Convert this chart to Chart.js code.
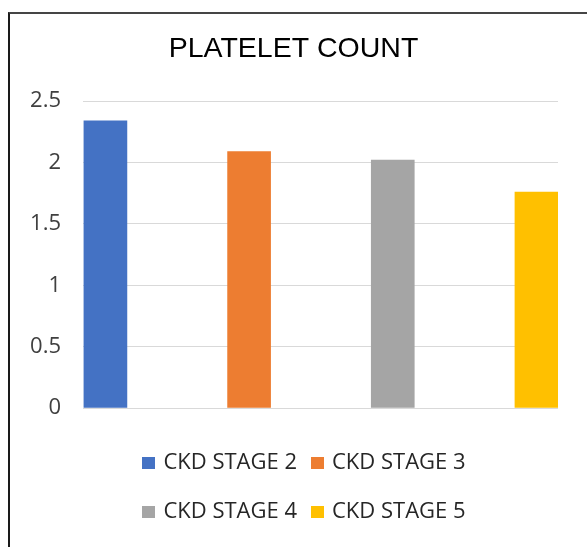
<!DOCTYPE html>
<html lang="en">
<head>
    <meta charset="UTF-8">
    <title>PLATELET COUNT</title>
    <script src="https://cdn.jsdelivr.net/npm/chart.js"></script>
    <style>
        body {
            margin: 0;
            background-color: #fff;
            overflow: hidden;
        }
        .frame {
            position: absolute;
            left: 8px;
            top: 12px;
            width: 700px;
            height: 700px;
            border-left: 2px solid #1a1a1a;
            border-top: 2px solid #454545;
        }
        .chart-container {
            position: absolute;
            left: 0;
            top: 0;
            width: 587px;
            height: 547px;
        }
    </style>
</head>
<body>
    <div class="frame"></div>
    <div class="chart-container">
        <canvas id="plateletChart"></canvas>
    </div>

    <script>
    // --- data ---
    const stages = ['CKD STAGE 2', 'CKD STAGE 3', 'CKD STAGE 4', 'CKD STAGE 5'];
    const plateletValues = [2.34, 2.09, 2.02, 1.76];
    const barColors = ['#4472C4', '#ED7D31', '#A5A5A5', '#FFC000'];
    const yTicks = [0, 0.5, 1, 1.5, 2, 2.5];

    // Excel style legend: two rows of two items under the plot
    const excelLegend = {
        id: 'excelLegend',
        afterDraw(chart) {
            const ctx = chart.ctx;
            const sets = chart.data.datasets;
            const rows = [[0, 1], [2, 3]];
            ctx.save();
            ctx.font = '22px "Open Sans"';
            ctx.textBaseline = 'middle';
            rows.forEach((row, r) => {
                const y = chart.chartArea.bottom + 55 + r * 49;
                const widths = row.map(i => 13 + 8 + ctx.measureText(sets[i].label).width);
                let x = 304 - (widths[0] + 14 + widths[1]) / 2;
                row.forEach((i, k) => {
                    ctx.fillStyle = sets[i].backgroundColor;
                    ctx.fillRect(Math.round(x), Math.round(y - 6), 13, 12);
                    ctx.fillStyle = '#262626';
                    ctx.fillText(sets[i].label, x + 21, y);
                    x += widths[k] + 14;
                });
            });
            ctx.restore();
        }
    };

    const ctx = document.getElementById('plateletChart').getContext('2d');
    new Chart(ctx, {
        type: 'bar',
        data: {
            datasets: stages.map((stage, i) => ({
                label: stage,
                data: [{ x: i, y: plateletValues[i] }],
                backgroundColor: barColors[i],
                barThickness: 43,
                grouped: false
            }))
        },
        options: {
            responsive: true,
            maintainAspectRatio: false,
            animation: false,
            layout: {
                padding: { left: 29, right: 29, top: 0, bottom: 139 }
            },
            plugins: {
                title: {
                    display: true,
                    text: 'PLATELET COUNT',
                    color: '#000',
                    font: { family: '"Liberation Sans", Arial, sans-serif', size: 28.5, weight: 'normal' },
                    padding: { top: 32, bottom: 35 }
                },
                legend: { display: false },
                tooltip: { enabled: false }
            },
            scales: {
                x: {
                    type: 'linear',
                    display: false,
                    offset: false,
                    min: -0.156,
                    max: 3.15
                },
                y: {
                    min: yTicks[0],
                    max: yTicks[yTicks.length - 1],
                    afterFit: scale => { scale.width = 54; },
                    ticks: {
                        stepSize: yTicks[1] - yTicks[0],
                        padding: 22,
                        color: '#404040',
                        font: { family: '"Open Sans", sans-serif', size: 22 },
                        callback: value => String(value)
                    },
                    grid: {
                        color: '#d9d9d9',
                        lineWidth: 1,
                        drawTicks: false
                    },
                    border: { display: false }
                }
            }
        },
        plugins: [excelLegend]
    });
    </script>
</body>
</html>
